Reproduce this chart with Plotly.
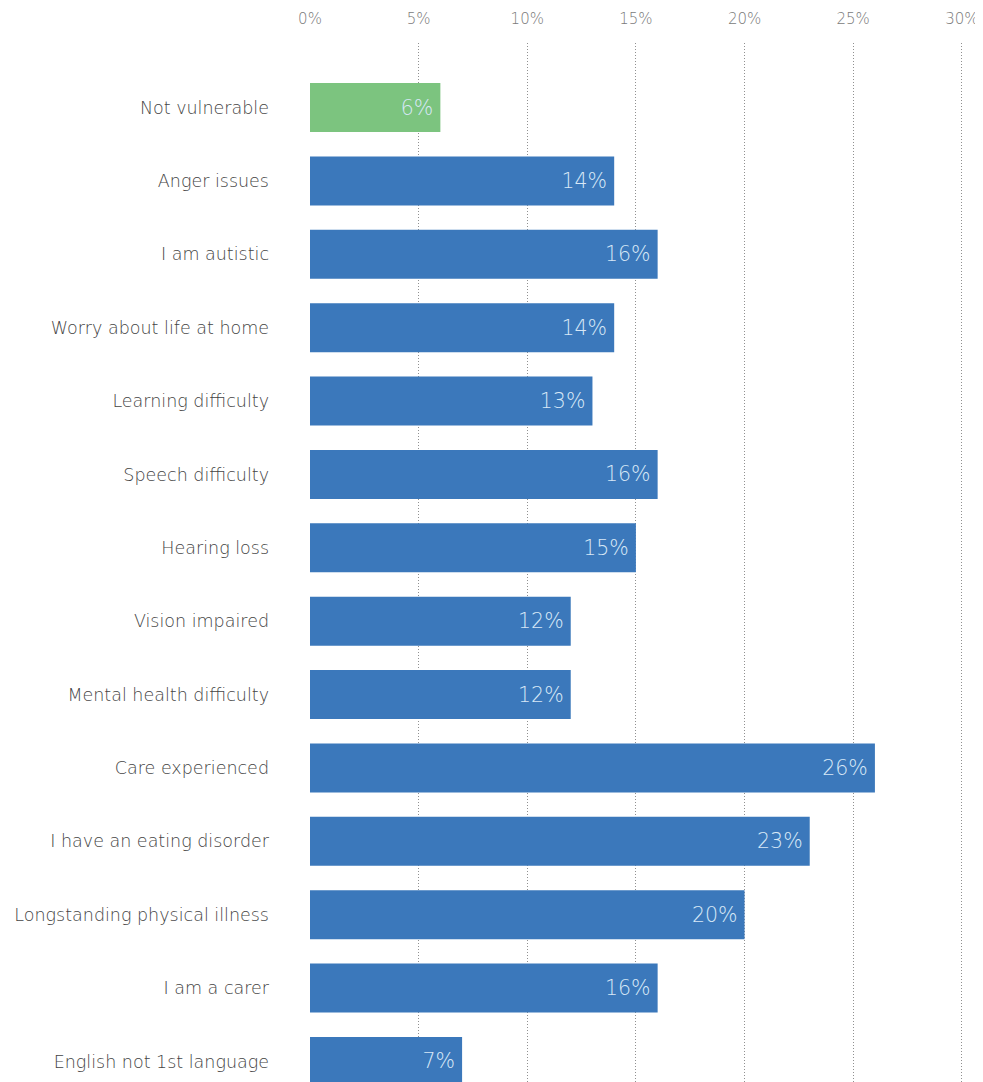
import plotly.graph_objects as go

categories = [
    "Not vulnerable", "Anger issues", "I am autistic", "Worry about life at home",
    "Learning difficulty", "Speech difficulty", "Hearing loss", "Vision impaired",
    "Mental health difficulty", "Care experienced", "I have an eating disorder",
    "Longstanding physical illness", "I am a carer", "English not 1st language",
]
values = [6, 14, 16, 14, 13, 16, 15, 12, 12, 26, 23, 20, 16, 7]
tick_vals = [0, 5, 10, 15, 20, 25, 30]
tick_text = ["0%", "5%", "10%", "15%", "20%", "25%", "30%"]

colors = ["#7cc47f" if c == "Not vulnerable" else "#3b78bb" for c in categories]
labels = [f"{v}%\u2009" for v in values]

FONT = "DejaVu Sans"

fig = go.Figure(go.Bar(
    y=categories, x=values, orientation="h",
    marker=dict(color=colors, line=dict(width=0)),
    text=labels, textposition="inside", insidetextanchor="end",
    textfont=dict(family=FONT, size=20.5, color="#d8e8f7", weight=200),
    cliponaxis=True,
))

fig.update_layout(
    width=1000, height=1074,
    margin=dict(l=302, r=44, t=35, b=0),
    plot_bgcolor="white", paper_bgcolor="white",
    bargap=0.333, showlegend=False,
    xaxis=dict(
        side="top", range=[0, 30.1], tickvals=tick_vals, ticktext=tick_text,
        showgrid=True, gridcolor="#909090", griddash="1px,2px", gridwidth=1,
        zeroline=False, showline=False, ticks="",
        ticklabelstandoff=15,
        tickfont=dict(family=FONT, size=15, color="#7a7a7a", weight=200),
    ),
    yaxis=dict(
        range=[13.28, -0.88], showgrid=False, zeroline=False, showline=False,
        ticks="", ticklabelstandoff=40,
        tickfont=dict(family=FONT, size=17.5, color="#444444", weight=200),
    ),
)

fig.write_html("out.html")
